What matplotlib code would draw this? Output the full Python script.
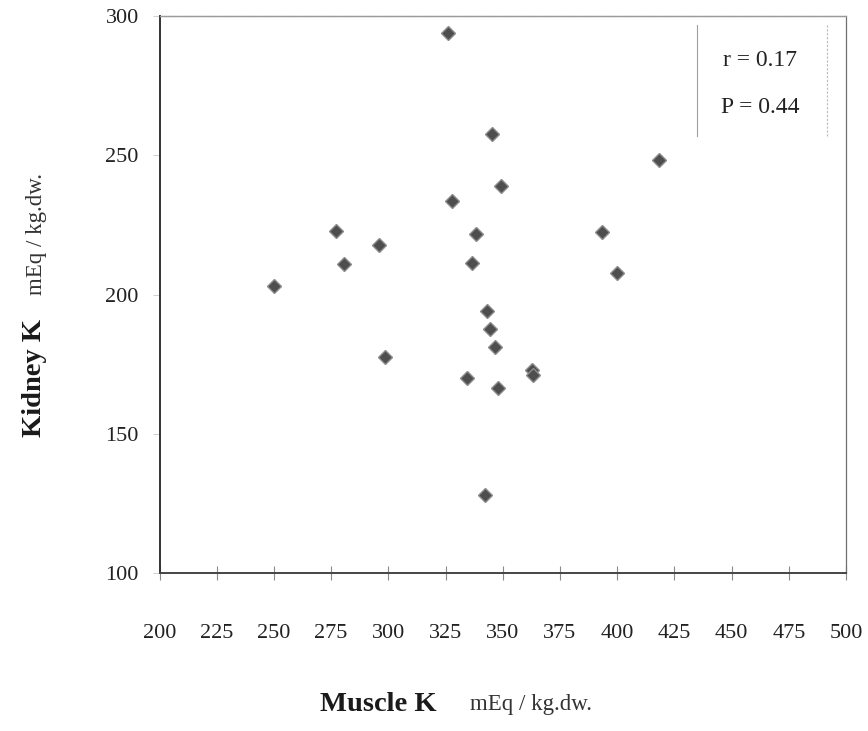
import matplotlib.pyplot as plt

plt.rcParams['font.family'] = ['Liberation Serif', 'DejaVu Serif']

# Muscle K vs kidney K (mEq / kg dry weight)
muscle_k = [326.0, 345.3, 418.4, 349.1, 328.0, 277.0, 338.1, 393.5, 295.9,
            280.8, 336.5, 400.0, 250.2, 343.3, 344.5, 346.5, 298.7, 362.6,
            363.2, 334.4, 348.1, 342.1]
kidney_k = [294.0, 257.8, 248.2, 238.9, 233.7, 222.9, 221.7, 222.3, 217.8,
            211.1, 211.3, 207.7, 203.1, 194.0, 187.6, 181.0, 177.7, 172.9,
            171.2, 170.0, 166.3, 128.1]

x_ticks = list(range(200, 501, 25))
y_ticks = [100, 150, 200, 250, 300]
stats = ['r = 0.17', 'P = 0.44']

fig = plt.figure(figsize=(8.68, 7.31), dpi=100)
ax = fig.add_axes([0.1838, 0.2161, 0.7909, 0.7620])

ax.plot(muscle_k, kidney_k, linestyle='none', marker='D', markersize=6.8,
        markerfacecolor='#4e4e4e', markeredgecolor='#8c8c8c', markeredgewidth=1.0)

ax.set_xlim(200, 500)
ax.set_ylim(100, 300)
ax.set_xticks(x_ticks)
ax.set_yticks(y_ticks)
ax.tick_params(axis='x', direction='inout', length=10, width=0.8, color='#8a8a8a',
               pad=32, labelsize=16, labelcolor='#222222')
ax.tick_params(axis='y', direction='out', length=5, width=0.6, color='#c8c8c8',
               pad=10, labelsize=16, labelcolor='#222222')

ax.spines['left'].set_color('#333333')
ax.spines['left'].set_linewidth(1.4)
ax.spines['bottom'].set_color('#444444')
ax.spines['bottom'].set_linewidth(1.4)
ax.spines['top'].set_color('#9a9a9a')
ax.spines['top'].set_linewidth(1.0)
ax.spines['top'].set_linestyle((0, (1, 0.6)))
ax.spines['right'].set_color('#707070')
ax.spines['right'].set_linewidth(0.9)

# Box around the correlation statistics (side rules only)
ax.plot([434.9, 434.9], [257.0, 296.8], color='#a0a0a0', linewidth=0.8)
ax.plot([491.7, 491.7], [257.0, 296.8], color='#b8b8b8', linewidth=0.8,
        linestyle=(0, (2, 1.5)))
ax.text(462.5, 284.2, stats[0], ha='center', va='center', fontsize=17, color='#222222')
ax.text(462.5, 267.2, stats[1], ha='center', va='center', fontsize=17, color='#222222')

# Axis titles: bold quantity followed by units
fig.text(0.5035, 0.0356, 'Muscle K', ha='right', va='center', fontsize=20.5,
         fontweight='bold', color='#1a1a1a')
fig.text(0.5415, 0.0356, 'mEq / kg.dw.', ha='left', va='center', fontsize=16.5,
         color='#333333')
fig.text(0.040, 0.4022, 'Kidney K', ha='center', va='bottom', rotation=90,
         fontsize=20.5, fontweight='bold', color='#1a1a1a')
fig.text(0.042, 0.5964, 'mEq / kg.dw.', ha='center', va='bottom', rotation=90,
         fontsize=16.5, color='#333333')

fig.savefig('out.png', dpi=100)
